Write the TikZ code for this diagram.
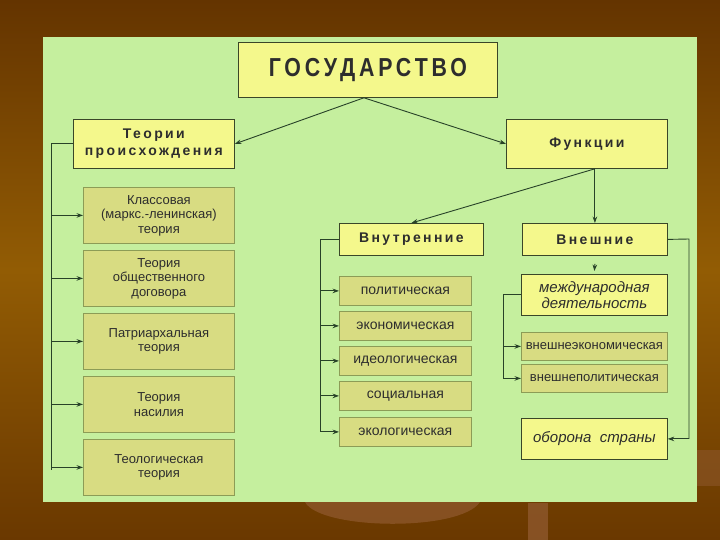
\documentclass[tikz,border=0pt]{standalone}
\usepackage{fontspec}
\setmainfont{Liberation Sans}
\newfontfamily\gosfont[LetterSpace=15,FakeStretch=0.82]{Liberation Sans}
\newfontfamily\hdrfont[LetterSpace=17]{Liberation Sans}
\usetikzlibrary{arrows.meta}
\definecolor{bgtop}{RGB}{100,52,0}
\definecolor{bgmid}{RGB}{146,92,4}
\definecolor{bgbot}{RGB}{106,56,0}
\definecolor{panel}{RGB}{197,239,158}
\definecolor{ylw}{RGB}{244,248,140}
\definecolor{olv}{RGB}{216,220,130}
\definecolor{boxline}{RGB}{58,70,40}
\definecolor{oline}{RGB}{140,156,86}
\definecolor{cline}{RGB}{40,66,40}
\definecolor{txt}{RGB}{45,45,45}
\definecolor{decor}{RGB}{140,86,42}
\begin{document}
\begin{tikzpicture}[x=1pt,y=-1pt,
  ybox/.style={draw=boxline, fill=ylw, line width=0.8pt, inner sep=0pt, anchor=north west, align=center, text=txt},
  obox/.style={draw=oline, fill=olv, line width=0.8pt, inner sep=0pt, anchor=north west, align=center, text=txt},
  conn/.style={draw=cline, line width=0.9pt},
  arr/.style={conn, -{Stealth[length=6.5pt,width=4.6pt]}},
  hdr/.style={font=\hdrfont\fontsize{14}{17}\selectfont\bfseries},
  reg/.style={font=\fontsize{13}{14.5}\selectfont},
  itm/.style={font=\fontsize{14}{16}\selectfont},
]
\path[use as bounding box] (0,0) rectangle (720,540);
% background
\shade[top color=bgtop, bottom color=bgbot, middle color=bgmid] (0,0) rectangle (720,540);
\fill[decor, opacity=0.8] (305,502) .. controls (320,530) and (460,532) .. (480,502) -- cycle;
\fill[decor, opacity=0.85] (528,503) rectangle (548,540);
\fill[decor, opacity=0.6] (697,450) rectangle (720,486);
% panel
\fill[panel] (43,37) rectangle (697,502);

% nodes
\node[ybox, minimum width=259, minimum height=55] (gos) at (238,42) {\gosfont\fontsize{26}{28}\selectfont\bfseries ГОСУДАРСТВО};
\node[ybox, hdr, minimum width=161, minimum height=49] (teor) at (73,119) {Теории\\происхождения};
\node[ybox, hdr, minimum width=161, minimum height=49] (func) at (506,119) {Функции};

\node[obox, reg, minimum width=151, minimum height=56] (k1) at (83,187) {Классовая\\(маркс.-ленинская)\\теория};
\node[obox, reg, minimum width=151, minimum height=56] (k2) at (83,250) {Теория\\общественного\\договора};
\node[obox, reg, minimum width=151, minimum height=56] (k3) at (83,313) {Патриархальная\\теория};
\node[obox, reg, minimum width=151, minimum height=56] (k4) at (83,376) {Теория\\насилия};
\node[obox, reg, minimum width=151, minimum height=56] (k5) at (83,439) {Теологическая\\теория};

\node[ybox, hdr, minimum width=144, minimum height=32] (vn) at (339,223) {Внутренние};
\node[ybox, hdr, minimum width=145, minimum height=32] (ve) at (522,223) {Внешние};

\node[obox, itm, minimum width=132, minimum height=29] (i1) at (339,276) {политическая};
\node[obox, itm, minimum width=132, minimum height=29] (i2) at (339,311) {экономическая};
\node[obox, itm, minimum width=132, minimum height=29] (i3) at (339,346) {идеологическая};
\node[obox, itm, minimum width=132, minimum height=29] (i4) at (339,381) {социальная};
\node[obox, itm, minimum width=132, minimum height=29] (i5) at (339,417) {экологическая};

\node[ybox, font=\fontsize{15}{16}\selectfont\itshape, minimum width=146, minimum height=41] (m1) at (521,274) {международная\\деятельность};
\node[obox, reg, minimum width=146, minimum height=28] (m2) at (521,332) {внешнеэкономическая};
\node[obox, reg, minimum width=146, minimum height=28] (m3) at (521,364) {внешнеполитическая};
\node[ybox, font=\fontsize{15}{16}\selectfont\itshape, minimum width=146, minimum height=41] (m4) at (521,418) {оборона\ \ страны};

% connectors
\coordinate (gs) at ([xshift=-4pt]gos.south);
\draw[arr] (gs) -- (teor.east);
\draw[arr] (gs) -- (func.west);

\coordinate (lb) at (51,470);
\draw[conn] (teor.west) -- (teor.west -| lb) -- (lb);
\foreach \n in {k1,k2,k3,k4,k5} \draw[arr] (\n.west -| lb) -- (\n.west);

\coordinate (fs) at ([xshift=8pt]func.south);
\draw[arr] (fs) -- (ve.north);
\draw[arr] (fs) -- (vn.north);

\coordinate (vb) at (320,432);
\draw[conn] (vn.west) -- (vn.west -| vb) -- (vb);
\foreach \n in {i1,i2,i3,i4,i5} \draw[arr] (\n.west -| vb) -- (\n.west);

\draw[arr] ([yshift=-8pt]ve.south) -- ([yshift=3pt]m1.north);

\coordinate (rb) at (689,239);
\draw[conn] (ve.east) -- (rb) -- (rb |- m4.east);
\draw[arr] (rb |- m4.east) -- (m4.east);

\coordinate (mb) at (503,378);
\draw[conn] (m1.west) -- (m1.west -| mb) -- (mb);
\draw[arr] (m2.west -| mb) -- (m2.west);
\draw[arr] (m3.west -| mb) -- (m3.west);
\end{tikzpicture}
\end{document}
